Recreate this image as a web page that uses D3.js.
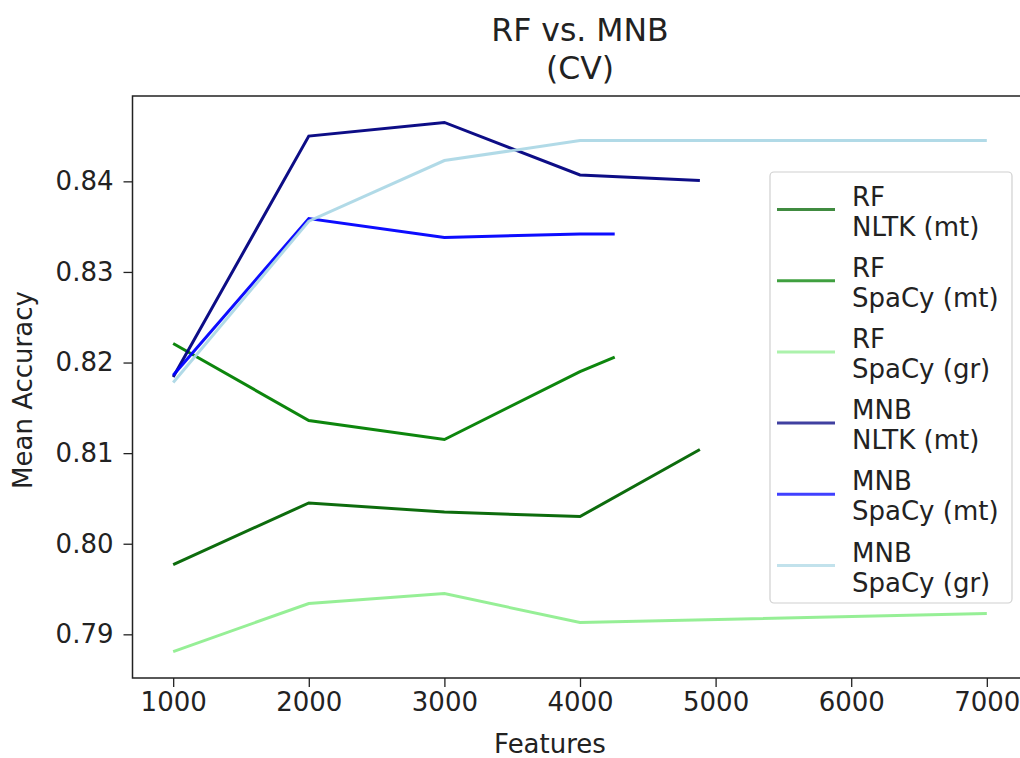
<!DOCTYPE html>
<html>
<head>
<meta charset="utf-8">
<script src="https://cdn.jsdelivr.net/npm/d3@7"></script>
<style>
  body { margin: 0; background: #fff; }
  svg { display: block; font-family: "DejaVu Sans", sans-serif; }
</style>
</head>
<body>
<svg id="chart" width="1020" height="758"></svg>
<script>
// Data
const seriesNames = [
  ["RF", "NLTK (mt)"],
  ["RF", "SpaCy (mt)"],
  ["RF", "SpaCy (gr)"],
  ["MNB", "NLTK (mt)"],
  ["MNB", "SpaCy (mt)"],
  ["MNB", "SpaCy (gr)"]
];
const seriesColors = ["darkgreen", "green", "lightgreen", "navy", "blue", "lightblue"];

const featuresNltk = [1000, 2000, 3000, 4000, 4884];
const featuresSpacyMt = [1000, 2000, 3000, 4000, 4256];
const featuresSpacyGr = [1000, 2000, 3000, 4000, 7000];

const rfNltkMt = [0.7977, 0.8045, 0.8035, 0.8030, 0.8104];
const rfSpacyMt = [0.8221, 0.8136, 0.8115, 0.8190, 0.8206];
const rfSpacyGr = [0.7881, 0.7934, 0.7945, 0.7913, 0.7923];
const mnbNltkMt = [0.8184, 0.8450, 0.8465, 0.8407, 0.8401];
const mnbSpacyMt = [0.8186, 0.8359, 0.8338, 0.8342, 0.8342];
const mnbSpacyGr = [0.8178, 0.8356, 0.8423, 0.8445, 0.8445];

const xTicks = [1000, 2000, 3000, 4000, 5000, 6000, 7000];
const yTicks = [0.79, 0.80, 0.81, 0.82, 0.83, 0.84];

const titleLines = ["RF vs. MNB", "(CV)"];
const xLabel = "Features";
const yLabel = "Mean Accuracy";

const series = [
  { x: featuresNltk, y: rfNltkMt },
  { x: featuresSpacyMt, y: rfSpacyMt },
  { x: featuresSpacyGr, y: rfSpacyGr },
  { x: featuresNltk, y: mnbNltkMt },
  { x: featuresSpacyMt, y: mnbSpacyMt },
  { x: featuresSpacyGr, y: mnbSpacyGr }
].map((s, i) => ({
  name: seriesNames[i],
  color: seriesColors[i],
  points: s.x.map((f, j) => ({ f: f, v: s.y[j] }))
}));

// Plot box (right spine falls past the picture edge, as in the reference)
const plot = { left: 132.5, right: 1027.5, top: 96, bottom: 678 };
const svg = d3.select("#chart");

// matplotlib-style 5% margins
const allX = series.flatMap(s => s.points.map(p => p.f));
const allY = series.flatMap(s => s.points.map(p => p.v));
const [xMin, xMax] = d3.extent(allX);
const [yMin, yMax] = d3.extent(allY);
const xPad = (xMax - xMin) * 0.05;
const yPad = (yMax - yMin) * 0.05;

const x = d3.scaleLinear().domain([xMin - xPad, xMax + xPad]).range([plot.left, plot.right]);
const y = d3.scaleLinear().domain([yMin - yPad, yMax + yPad]).range([plot.bottom, plot.top]);

const line = d3.line().x(d => x(d.f)).y(d => y(d.v));

// Lines
svg.append("g")
  .selectAll("path")
  .data(series)
  .join("path")
  .attr("d", d => line(d.points))
  .attr("fill", "none")
  .attr("stroke", d => d.color)
  .attr("stroke-opacity", 0.95)
  .attr("stroke-width", 3)
  .attr("stroke-linejoin", "miter")
  .attr("stroke-linecap", "butt");

// Axes
const xAxis = d3.axisBottom(x).tickValues(xTicks).tickSize(9).tickPadding(6).tickFormat(d3.format("d"));
const yAxis = d3.axisLeft(y).tickValues(yTicks).tickSize(9).tickPadding(10).tickFormat(d3.format(".2f"));

const gx = svg.append("g").attr("transform", `translate(0,${plot.bottom})`).call(xAxis);
const gy = svg.append("g").attr("transform", `translate(${plot.left},0)`).call(yAxis);

[gx, gy].forEach(g => {
  g.select(".domain").remove();
  g.selectAll(".tick line").attr("stroke", "#222").attr("stroke-width", 1.3);
  g.selectAll(".tick text")
    .attr("fill", "#222")
    .style("font-family", "DejaVu Sans")
    .style("font-size", "26px");
});
gx.selectAll(".tick text").attr("dy", "0.71em");

// Spines
svg.append("rect")
  .attr("x", plot.left)
  .attr("y", plot.top)
  .attr("width", plot.right - plot.left)
  .attr("height", plot.bottom - plot.top)
  .attr("fill", "none")
  .attr("stroke", "#222")
  .attr("stroke-width", 1.5);

// Title
svg.append("text")
  .attr("x", (plot.left + plot.right) / 2)
  .attr("y", 41)
  .attr("text-anchor", "middle")
  .attr("fill", "#222")
  .style("font-size", "31.5px")
  .selectAll("tspan")
  .data(titleLines)
  .join("tspan")
  .attr("x", (plot.left + plot.right) / 2)
  .attr("dy", (d, i) => i === 0 ? 0 : "1.2em")
  .text(d => d);

// Axis labels
svg.append("text")
  .attr("x", 550)
  .attr("y", 753)
  .attr("text-anchor", "middle")
  .attr("fill", "#222")
  .style("font-size", "26px")
  .text(xLabel);

svg.append("text")
  .attr("transform", `translate(32,390) rotate(-90)`)
  .attr("text-anchor", "middle")
  .attr("fill", "#222")
  .style("font-size", "26px")
  .text(yLabel);

// Legend
const legend = { x: 770, y: 172, w: 242, h: 431, rowH: 71.2 };
const lg = svg.append("g");
lg.append("rect")
  .attr("x", legend.x)
  .attr("y", legend.y)
  .attr("width", legend.w)
  .attr("height", legend.h)
  .attr("rx", 4)
  .attr("fill", "#fff")
  .attr("fill-opacity", 0.8)
  .attr("stroke", "#d0d0d0")
  .attr("stroke-width", 1.2);

const rows = lg.selectAll("g.row")
  .data(series)
  .join("g")
  .attr("class", "row")
  .attr("transform", (d, i) => `translate(${legend.x},${legend.y + 37.5 + i * legend.rowH})`);

rows.append("line")
  .attr("x1", 7)
  .attr("x2", 65)
  .attr("stroke", d => d.color)
  .attr("stroke-opacity", 0.75)
  .attr("stroke-width", 3);

rows.append("text")
  .attr("fill", "#222")
  .style("font-size", "26px")
  .selectAll("tspan")
  .data(d => d.name)
  .join("tspan")
  .attr("x", 82)
  .attr("y", (d, i) => i === 0 ? -4 : 26)
  .text(d => d);
</script>
</body>
</html>
